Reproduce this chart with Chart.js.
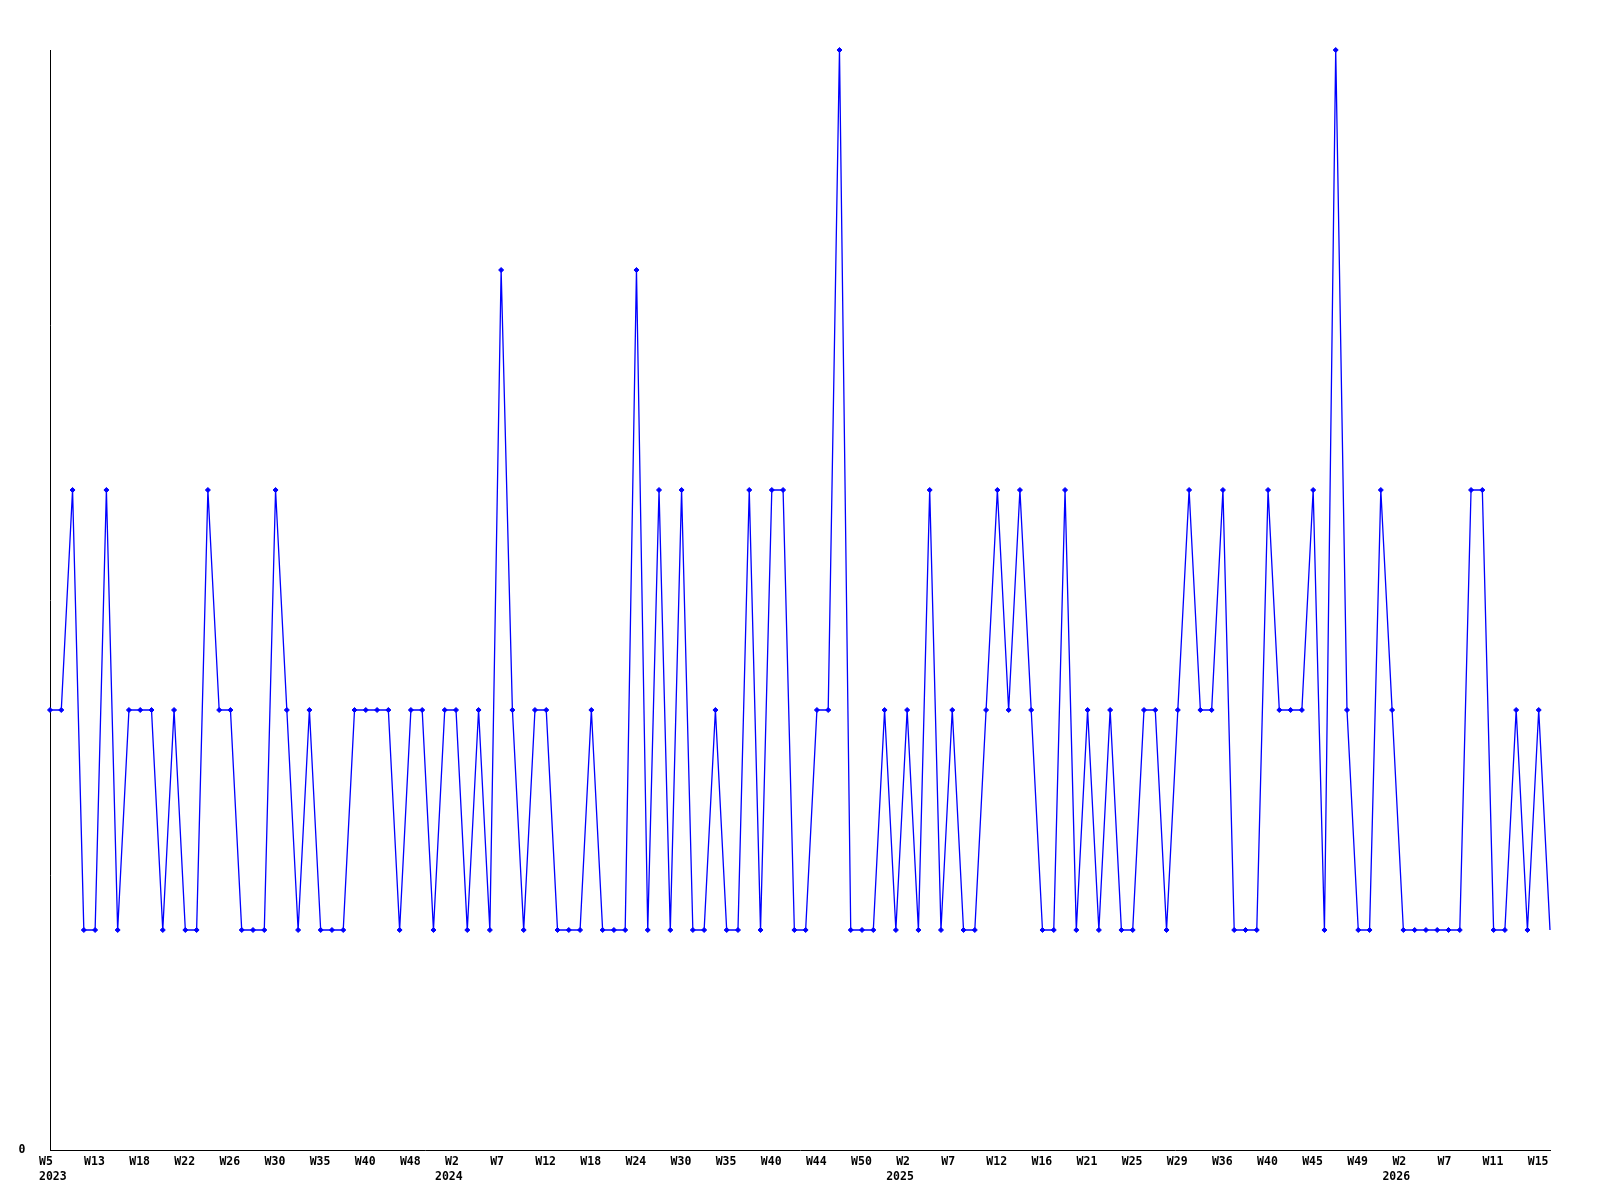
<!DOCTYPE html>
<html>
<head>
<meta charset="utf-8">
<title>Weekly count</title>
<script src="https://cdn.jsdelivr.net/npm/chart.js@4.4.1/dist/chart.umd.min.js"></script>
<style>
  html, body { margin: 0; padding: 0; background: #fff; }
  #wrap { width: 1600px; height: 1200px; position: relative; }
</style>
</head>
<body>
<div id="wrap"><canvas id="chart"></canvas></div>
<script>
// One value per sample
const values = [
  2, 2, 3, 1, 1, 3, 1, 2, 2, 2, 1, 2, 1, 1, 3, 2, 2, 1, 1, 1, 3, 2, 1, 2, 1, 1, 1, 2, 2, 2, 2, 1, 2, 2,
  1, 2, 2, 1, 2, 1, 4, 2, 1, 2, 2, 1, 1, 1, 2, 1, 1, 1, 4, 1, 3, 1, 3, 1, 1, 2, 1, 1, 3, 1, 3, 3, 1, 1, 2,
  2, 5, 1, 1, 1, 2, 1, 2, 1, 3, 1, 2, 1, 1, 2, 3, 2, 3, 2, 1, 1, 3, 1, 2, 1, 2, 1, 1, 2, 2, 1, 2, 3, 2,
  2, 3, 1, 1, 1, 3, 2, 2, 2, 3, 1, 5, 2, 1, 1, 3, 2, 1, 1, 1, 1, 1, 1, 3, 3, 1, 1, 2, 1, 2, 1,
];

// Tick labels, one every 4 samples
const weekLabels = [
  "W5", "W13", "W18", "W22", "W26", "W30", "W35", "W40", "W48", "W2",
  "W7", "W12", "W18", "W24", "W30", "W35", "W40", "W44", "W50", "W2",
  "W7", "W12", "W16", "W21", "W25", "W29", "W36", "W40", "W45", "W49",
  "W2", "W7", "W11", "W15",
];
const yearLabels = [
  "2023", "", "", "", "", "", "", "", "", "2024",
  "", "", "", "", "", "", "", "", "", "2025",
  "", "", "", "", "", "", "", "", "", "",
  "2026", "", "", "",
];
const tickEvery = 4;

const FONT = "bold 11.5px 'DejaVu Sans Mono', monospace";

// x axis + y axis labels drawn by hand so they sit where the original puts them
const labelPlugin = {
  id: "labels",
  afterDraw(chart) {
    const ctx = chart.ctx;
    const xs = chart.scales.x;
    const ys = chart.scales.y;
    ctx.save();
    ctx.font = FONT;
    ctx.fillStyle = "#000";
    ctx.textBaseline = "middle";
    ctx.textAlign = "left";
    const y0 = ys.getPixelForValue(0);
    weekLabels.forEach((w, k) => {
      const x = xs.getPixelForValue(k * tickEvery) - 11;
      ctx.fillText(w, x, y0 + 12);
      if (yearLabels[k]) {
        ctx.fillText(yearLabels[k], k === 0 ? x : x - 10, y0 + 27);
      }
    });
    ctx.textAlign = "center";
    ctx.fillText("0", 22, y0);
    ctx.restore();
  },
};

new Chart(document.getElementById("chart"), {
  type: "line",
  data: {
    labels: values.map((v, i) => i),
    datasets: [
      {
        data: values,
        borderColor: "#0000ff",
        borderWidth: 1.3,
        backgroundColor: "#0000ff",
        pointStyle: "rectRot",
        pointRadius: (c) => (c.dataIndex === values.length - 1 ? 0 : 2.5),
        pointBorderWidth: 1,
        pointBorderColor: "#0000ff",
        pointBackgroundColor: "#0000ff",
        tension: 0,
        fill: false,
        clip: false,
      },
    ],
  },
  options: {
    responsive: true,
    maintainAspectRatio: false,
    animation: false,
    layout: { padding: { left: 50, right: 50, top: 50, bottom: 50 } },
    plugins: { legend: { display: false }, tooltip: { enabled: false } },
    scales: {
      x: {
        type: "category",
        offset: false,
        grid: { display: false, drawTicks: false, tickLength: 0 },
        border: { display: true, color: "#000", width: 1 },
        ticks: { display: false, padding: 0 },
      },
      y: {
        min: 0,
        max: 5,
        grid: { display: false, drawTicks: false, tickLength: 0 },
        border: { display: true, color: "#000", width: 1 },
        ticks: { display: false, padding: 0 },
      },
    },
  },
  plugins: [labelPlugin],
});
</script>
</body>
</html>
